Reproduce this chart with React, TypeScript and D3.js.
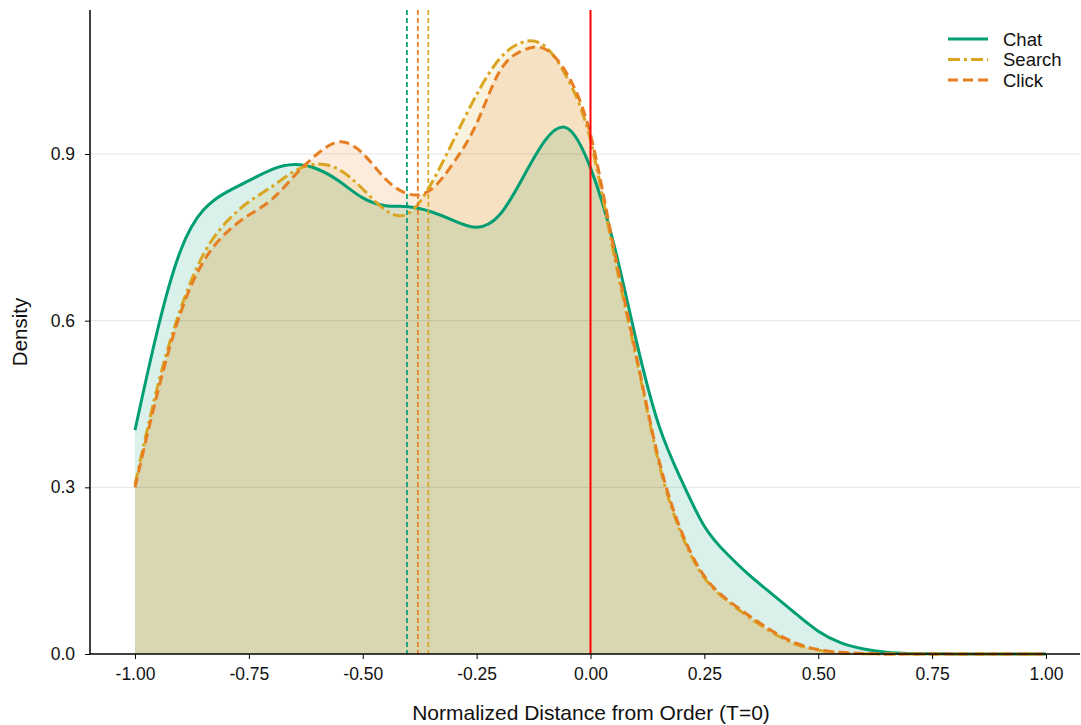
import React, { useEffect, useRef } from 'react';
import * as d3 from 'd3';

// sample positions of the density curves (normalized distance)
const xGrid = [
  -1.0, -0.95, -0.9, -0.85, -0.8, -0.75, -0.7, -0.65, -0.6, -0.55, -0.5,
  -0.45, -0.4, -0.35, -0.3, -0.25, -0.2, -0.15, -0.1, -0.05, 0.0,
  0.05, 0.1, 0.15, 0.2, 0.25, 0.3, 0.35, 0.4, 0.45, 0.5,
  0.55, 0.6, 0.65, 0.7, 0.75, 0.8, 0.85, 0.9, 0.95, 1.0,
];

const chatDensity = [
  0.403, 0.585, 0.726, 0.799, 0.831, 0.852, 0.872, 0.881, 0.873, 0.85, 0.821,
  0.807, 0.805, 0.796, 0.78, 0.768, 0.79, 0.855, 0.924, 0.946, 0.875,
  0.742, 0.566, 0.412, 0.312, 0.23, 0.18, 0.141, 0.107, 0.073, 0.041,
  0.02, 0.009, 0.003, 0.001, 0.0005, 0.0002, 0, 0, 0, 0,
];

const searchDensity = [
  0.305, 0.483, 0.621, 0.719, 0.777, 0.814, 0.841, 0.869, 0.882, 0.871, 0.837,
  0.799, 0.793, 0.846, 0.926, 1.007, 1.071, 1.101, 1.094, 1.035, 0.925,
  0.725, 0.535, 0.344, 0.215, 0.137, 0.096, 0.065, 0.038, 0.018, 0.007,
  0.002, 0.0005, 0, 0, 0, 0, 0, 0, 0, 0,
];

const clickDensity = [
  0.3, 0.472, 0.614, 0.706, 0.758, 0.79, 0.818, 0.861, 0.9, 0.922, 0.901,
  0.855, 0.828, 0.836, 0.885, 0.955, 1.048, 1.086, 1.089, 1.042, 0.935,
  0.735, 0.54, 0.35, 0.22, 0.14, 0.098, 0.068, 0.041, 0.02, 0.008,
  0.003, 0.001, 0, 0, 0, 0, 0, 0, 0, 0,
];

const seriesNames = ['Chat', 'Search', 'Click'];
const seriesMeans = [-0.403, -0.356, -0.379];
const seriesColors = ['#009E73', '#DAA520', '#E67E22'];
const seriesDash = [null, '12,4,3,4', '10,5'];

const xTicks = [-1.0, -0.75, -0.5, -0.25, 0.0, 0.25, 0.5, 0.75, 1.0];
const yTicks = [0.0, 0.3, 0.6, 0.9];

const FONT = '"Liberation Sans", Arial, sans-serif';

export default function App() {
  const ref = useRef<SVGSVGElement>(null);

  useEffect(() => {
    const svg = d3.select(ref.current);
    svg.selectAll('*').remove();

    const left = 90;
    const right = 1080;
    const top = 10;
    const bottom = 654;

    const x = d3.scaleLinear().domain([-1, 1]).range([135, 1046]);
    const y = d3.scaleLinear().domain([0, 0.9]).range([bottom, 154]);

    const allSeries = [chatDensity, searchDensity, clickDensity];
    const pts = (vals: number[]) => xGrid.map((v, i) => [v, vals[i]] as [number, number]);

    const area = d3
      .area<[number, number]>()
      .x(d => x(d[0]))
      .y0(y(0))
      .y1(d => y(Math.max(0, d[1])))
      .curve(d3.curveNatural);

    const line = d3
      .line<[number, number]>()
      .x(d => x(d[0]))
      .y(d => y(Math.max(0, d[1])))
      .curve(d3.curveNatural);

    // fills
    allSeries.forEach((vals, i) => {
      svg
        .append('path')
        .datum(pts(vals))
        .attr('d', area)
        .attr('fill', seriesColors[i])
        .attr('fill-opacity', 0.15);
    });

    // grid
    svg
      .selectAll('line.grid')
      .data(yTicks.filter(t => t > 0))
      .enter()
      .append('line')
      .attr('class', 'grid')
      .attr('x1', left)
      .attr('x2', right)
      .attr('y1', d => y(d))
      .attr('y2', d => y(d))
      .attr('stroke', '#000')
      .attr('stroke-opacity', 0.1)
      .attr('stroke-width', 1);

    // curves
    allSeries.forEach((vals, i) => {
      const p = svg
        .append('path')
        .datum(pts(vals))
        .attr('d', line)
        .attr('fill', 'none')
        .attr('stroke', seriesColors[i])
        .attr('stroke-width', 3);
      if (seriesDash[i]) p.attr('stroke-dasharray', seriesDash[i] as string);
    });

    // mean markers
    seriesMeans.forEach((m, i) => {
      svg
        .append('line')
        .attr('x1', x(m))
        .attr('x2', x(m))
        .attr('y1', top)
        .attr('y2', bottom)
        .attr('stroke', seriesColors[i])
        .attr('stroke-width', 1.7)
        .attr('stroke-dasharray', '5,3');
    });

    // order time T=0
    svg
      .append('line')
      .attr('x1', x(0))
      .attr('x2', x(0))
      .attr('y1', top)
      .attr('y2', bottom)
      .attr('stroke', '#FF0000')
      .attr('stroke-width', 2);

    // axes
    const xAxis = d3
      .axisBottom(x)
      .tickValues(xTicks)
      .tickSize(5)
      .tickPadding(9)
      .tickFormat(d => (d as number).toFixed(2));
    const gx = svg.append('g').attr('transform', `translate(0,${bottom})`).call(xAxis);
    gx.select('.domain').remove();

    const yAxis = d3
      .axisLeft(y)
      .tickValues(yTicks)
      .tickSize(5)
      .tickPadding(10)
      .tickFormat(d => (d as number).toFixed(1));
    const gy = svg.append('g').attr('transform', `translate(${left},0)`).call(yAxis);
    gy.select('.domain').remove();

    svg
      .selectAll('.tick text')
      .attr('font-family', FONT)
      .attr('font-size', 17.5)
      .attr('fill', '#111');
    svg.selectAll('.tick line').attr('stroke', '#000').attr('stroke-width', 1);

    // spines
    svg
      .append('line')
      .attr('x1', left)
      .attr('x2', left)
      .attr('y1', top)
      .attr('y2', bottom)
      .attr('stroke', '#000')
      .attr('stroke-width', 1.5);
    svg
      .append('line')
      .attr('x1', left)
      .attr('x2', right)
      .attr('y1', bottom)
      .attr('y2', bottom)
      .attr('stroke', '#000')
      .attr('stroke-width', 1.5);

    // axis titles
    svg
      .append('text')
      .attr('x', 591)
      .attr('y', 720)
      .attr('text-anchor', 'middle')
      .attr('font-family', FONT)
      .attr('font-size', 21)
      .attr('fill', '#111')
      .text('Normalized Distance from Order (T=0)');
    svg
      .append('text')
      .attr('transform', 'translate(27,332) rotate(-90)')
      .attr('text-anchor', 'middle')
      .attr('font-family', FONT)
      .attr('font-size', 20.5)
      .attr('fill', '#111')
      .text('Density');

    // legend
    seriesNames.forEach((name, i) => {
      const ly = 39 + i * 20.5;
      const l = svg
        .append('line')
        .attr('x1', 948)
        .attr('x2', 988)
        .attr('y1', ly)
        .attr('y2', ly)
        .attr('stroke', seriesColors[i])
        .attr('stroke-width', 3);
      if (seriesDash[i]) l.attr('stroke-dasharray', seriesDash[i] as string);
      svg
        .append('text')
        .attr('x', 1003)
        .attr('y', ly)
        .attr('dy', '0.36em')
        .attr('font-family', FONT)
        .attr('font-size', 18.5)
        .attr('fill', '#111')
        .text(name);
    });
  }, []);

  return (
    <svg
      ref={ref}
      width={1081}
      height={725}
      style={{ position: 'absolute', left: 0, top: 0, background: '#fff' }}
    />
  );
}
